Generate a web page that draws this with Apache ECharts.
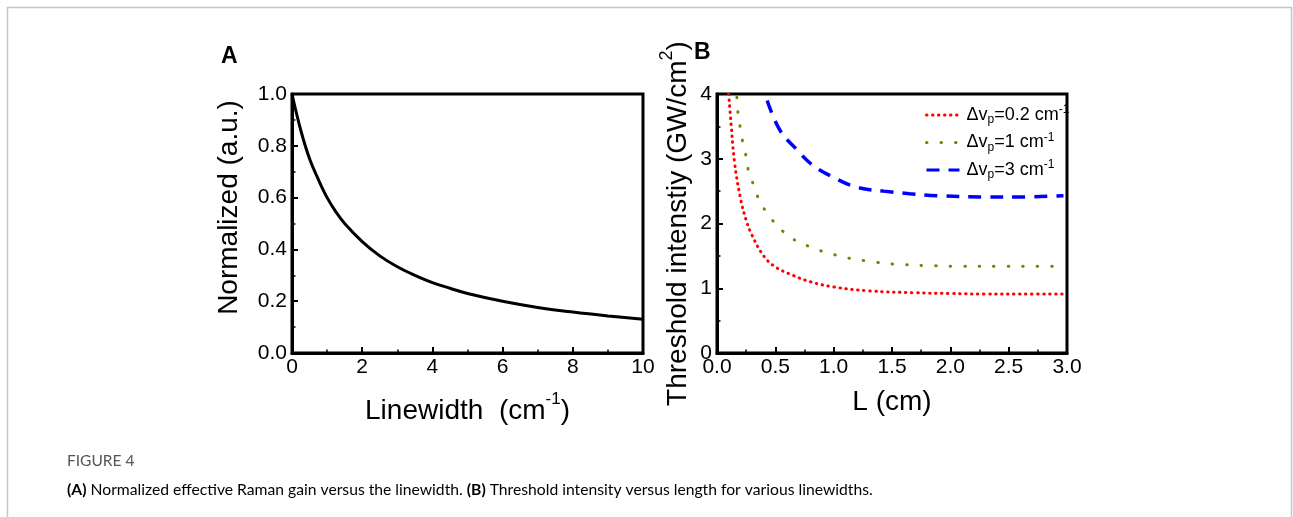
<!DOCTYPE html>
<html>
<head>
<meta charset="utf-8">
<script src="https://cdn.jsdelivr.net/npm/echarts@6/dist/echarts.min.js"></script>
<style>
  html, body { margin: 0; padding: 0; background: #fff; }
  #chart { width: 1293px; height: 517px; }
</style>
</head>
<body>
<div id="chart"></div>
<script>
// Panel A: normalized effective Raman gain vs linewidth (cm^-1)
const linewidthA = [0, 0.25, 0.5, 0.75, 1, 1.25, 1.5, 2, 2.5, 3, 3.5, 4, 4.5, 5, 6, 7, 8, 9, 10];
const gainA = [1.0, 0.86, 0.75, 0.67, 0.60, 0.545, 0.50, 0.43, 0.375, 0.333, 0.30, 0.272, 0.25, 0.23, 0.20, 0.176, 0.158, 0.143, 0.13];

// Panel B: threshold intensity (GW/cm^2) vs length L (cm)
const lenB02 = [0.10, 0.12, 0.15, 0.20, 0.25, 0.30, 0.40, 0.50, 0.65, 0.80, 1.0, 1.3, 1.7, 2.0, 2.3, 2.6, 3.0];
const thrB02 = [4.0, 3.55, 2.95, 2.4, 2.05, 1.82, 1.5, 1.33, 1.2, 1.1, 1.02, 0.96, 0.93, 0.92, 0.91, 0.91, 0.91];
const lenB1 = [0.17, 0.18, 0.20, 0.22, 0.25, 0.27, 0.31, 0.35, 0.41, 0.48, 0.57, 0.68, 0.80, 0.92, 1.05, 1.17, 1.29, 1.42, 1.54, 1.8, 2.1, 2.4, 2.7, 2.91];
const thrB1 = [3.95, 3.7, 3.47, 3.26, 3.03, 2.81, 2.61, 2.41, 2.21, 2.04, 1.87, 1.73, 1.64, 1.56, 1.5, 1.45, 1.42, 1.39, 1.37, 1.35, 1.34, 1.34, 1.34, 1.34];
const lenB3 = [0.43, 0.54, 0.69, 0.82, 0.99, 1.2, 1.43, 1.65, 1.89, 2.28, 2.57, 2.97];
const thrB3 = [3.9, 3.44, 3.13, 2.9, 2.72, 2.56, 2.5, 2.46, 2.43, 2.41, 2.41, 2.43];

const seriesNames = ['dv02', 'dv1', 'dv3'];
const legendLabels = {
  dv02: '{n|\u0394v}{sub|p}{n|=0.2 cm}{sup|-1}',
  dv1: '{n|\u0394v}{sub|p}{n|=1 cm}{sup|-1}',
  dv3: '{n|\u0394v}{sub|p}{n|=3 cm}{sup|-1}'
};

const zip = (xs, ys) => xs.map((x, i) => [x, ys[i]]);

const FONT = '"Liberation Sans", Arial, sans-serif';
const CAPTION_FONT = 'Lato, "Open Sans", sans-serif';
const tickFont = { fontFamily: FONT, fontSize: 21, color: '#000' };
const axisLineStyle = { color: '#000', width: 3 };

function valueAxis(extra) {
  return Object.assign({
    type: 'value',
    axisLine: { show: true, onZero: false, lineStyle: axisLineStyle },
    axisTick: { show: true, inside: true, length: 6, lineStyle: { color: '#000', width: 2 } },
    minorTick: { show: true, splitNumber: 2, length: 3.5, lineStyle: { color: '#000', width: 1.5 } },
    splitLine: { show: false },
    minorSplitLine: { show: false }
  }, extra);
}

const chart = echarts.init(document.getElementById('chart'), null, { renderer: 'canvas' });

chart.setOption({
  backgroundColor: '#fff',
  animation: false,
  grid: [
    { left: 292, top: 94, width: 351, height: 259, show: true, borderColor: '#000', borderWidth: 3, backgroundColor: 'transparent' },
    { left: 717, top: 94, width: 350, height: 259, show: true, borderColor: '#000', borderWidth: 3, backgroundColor: 'transparent' }
  ],
  xAxis: [
    valueAxis({
      gridIndex: 0, min: 0, max: 10, interval: 2,
      axisLabel: Object.assign({ margin: 4, formatter: v => String(v) }, tickFont),
      name: '{t|Linewidth  (cm}{sup|-1}{t|)}',
      nameLocation: 'middle', nameGap: 38,
      nameTextStyle: {
        rich: {
          t: { fontFamily: FONT, fontSize: 28, color: '#000', lineHeight: 34, verticalAlign: 'bottom' },
          sup: { fontFamily: FONT, fontSize: 17, color: '#000', lineHeight: 34, verticalAlign: 'top' }
        }
      }
    }),
    valueAxis({
      gridIndex: 1, min: 0, max: 3, interval: 0.5,
      axisLabel: Object.assign({ margin: 4, formatter: v => v.toFixed(1) }, tickFont),
      name: 'L (cm)',
      nameLocation: 'middle', nameGap: 35,
      nameTextStyle: { fontFamily: FONT, fontSize: 28, color: '#000' }
    })
  ],
  yAxis: [
    valueAxis({
      gridIndex: 0, min: 0, max: 1, interval: 0.2,
      axisLabel: Object.assign({ margin: 5, formatter: v => v.toFixed(1) }, tickFont),
      name: 'Normalized (a.u.)',
      nameLocation: 'middle', nameGap: 49, nameRotate: 90,
      nameTextStyle: { fontFamily: FONT, fontSize: 28, color: '#000', padding: [0, 0, 0, 32] }
    }),
    valueAxis({
      gridIndex: 1, min: 0, max: 4, interval: 1,
      axisLabel: Object.assign({ margin: 5, formatter: v => String(v) }, tickFont),
      name: '{t|Threshold intenstiy (GW/cm}{sup|2}{t|)}',
      nameLocation: 'middle', nameGap: 25, nameRotate: 90,
      nameTextStyle: {
        rich: {
          t: { fontFamily: FONT, fontSize: 28, color: '#000', lineHeight: 34, verticalAlign: 'bottom' },
          sup: { fontFamily: FONT, fontSize: 18, color: '#000', lineHeight: 34, verticalAlign: 'top' }
        }
      }
    })
  ],
  legend: {
    show: true,
    data: seriesNames,
    orient: 'vertical',
    left: 925, top: 104,
    itemWidth: 33, itemHeight: 20, itemGap: 5.5,
    padding: 0,
    itemStyle: { opacity: 0 },
    lineStyle: { width: 3 },
    formatter: name => legendLabels[name],
    textStyle: {
      padding: [0, 0, 0, 2],
      rich: {
        n: { fontFamily: FONT, fontSize: 18, color: '#000', lineHeight: 22, verticalAlign: 'middle' },
        sub: { fontFamily: FONT, fontSize: 12, color: '#000', lineHeight: 22, verticalAlign: 'bottom' },
        sup: { fontFamily: FONT, fontSize: 12, color: '#000', lineHeight: 22, verticalAlign: 'top' }
      }
    }
  },
  series: [
    {
      name: 'gain', type: 'line', xAxisIndex: 0, yAxisIndex: 0,
      data: zip(linewidthA, gainA), smooth: 0.4, showSymbol: false, symbol: 'none',
      lineStyle: { color: '#000', width: 3 }
    },
    {
      name: 'dv02', type: 'line', xAxisIndex: 1, yAxisIndex: 1,
      data: zip(lenB02, thrB02), smooth: 0.4, showSymbol: false, symbol: 'none',
      itemStyle: { color: '#ff0000' },
      lineStyle: { color: '#ff0000', width: 3, type: [0.5, 5.5], cap: 'round' }
    },
    {
      name: 'dv1', type: 'line', xAxisIndex: 1, yAxisIndex: 1,
      data: zip(lenB1, thrB1), smooth: 0.4, showSymbol: false, symbol: 'none',
      itemStyle: { color: '#7f7f00' },
      lineStyle: { color: '#7f7f00', width: 3, type: [0.5, 14], cap: 'round' }
    },
    {
      name: 'dv3', type: 'line', xAxisIndex: 1, yAxisIndex: 1,
      data: zip(lenB3, thrB3), smooth: 0.4, showSymbol: false, symbol: 'none',
      itemStyle: { color: '#0000ff' },
      lineStyle: { color: '#0000ff', width: 3.5, type: [13, 9] }
    }
  ],
  graphic: [
    {
      type: 'polyline', silent: true,
      shape: { points: [[7.5, 517], [7.5, 7.5], [1291.5, 7.5], [1291.5, 517]] },
      style: { stroke: '#c6c6c6', lineWidth: 1.5, fill: null }
    },
    {
      type: 'text', left: 221, top: 45,
      style: { text: 'A', font: 'bold 23px ' + FONT, fill: '#000' }
    },
    {
      type: 'text', left: 694, top: 41,
      style: { text: 'B', font: 'bold 23px ' + FONT, fill: '#000' }
    },
    {
      type: 'text', left: 67, top: 453,
      style: { text: 'FIGURE 4', font: '15.5px ' + CAPTION_FONT, fill: '#555' }
    },
    {
      type: 'text', left: 67, top: 482,
      style: {
        text: '{b|(A)}{r| Normalized effective Raman gain versus the linewidth. }{b|(B)}{r| Threshold intensity versus length for various linewidths.}',
        rich: {
          b: { fontFamily: CAPTION_FONT, fontSize: 15.7, fontWeight: 'bold', color: '#333' },
          r: { fontFamily: CAPTION_FONT, fontSize: 15.7, color: '#444' }
        }
      }
    }
  ]
});
</script>
</body>
</html>
